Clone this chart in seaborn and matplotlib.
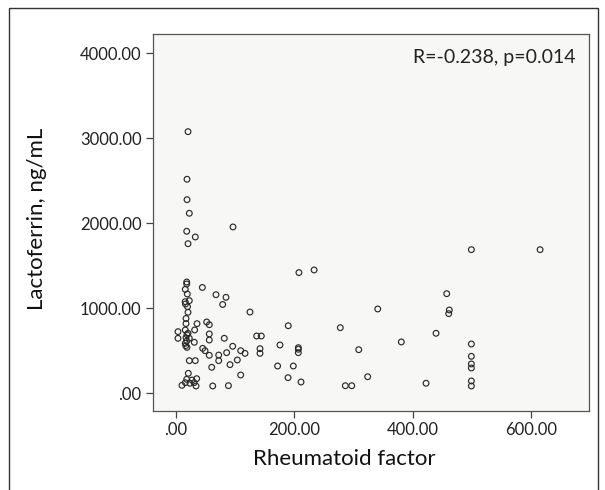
import matplotlib
matplotlib.use("Agg")
import matplotlib.pyplot as plt
from matplotlib.patches import Rectangle
import pandas as pd
import seaborn as sns

# Values
rheumatoid_factor = [
    18.6, 18.6, 16.2, 19.6, 16.0, 16.5, 23.0, 20.0, 20.8, 17.4, 17.4,
    16.2, 20.8, 17.4, 18.6, 16.2, 23.0, 19.0, 17.0, 19.0,
    3.9, 3.9,
    36.0, 32.0, 31.4, 23.0, 33.1,
    45.0, 52.3, 56.7, 56.7, 56.7, 45.6, 49.5, 56.7, 72.6, 72.6, 86.0, 60.8,
    21.3, 18.6, 27.5, 35.4, 10.6, 16.2, 24.1, 31.0, 34.3, 62.5, 89.0,
    68.0, 84.9, 79.3, 82.0, 96.2, 109.7, 117.0, 104.0, 91.7, 109.7,
    125.4, 136.7, 144.5, 142.3, 142.3,
    190.0, 176.0, 172.0, 198.5, 189.6, 211.5, 207.0, 207.0, 207.0, 208.0, 233.6,
    457.4, 461.8, 460.8, 341.0, 277.8, 439.4, 380.8, 308.9,
    499.0, 499.0, 499.0, 499.0, 499.0, 499.0,
    324.0, 286.3, 297.1, 422.5, 499.0, 615.0,
    20.8, 19.1, 19.1, 23.0, 18.6, 33.1, 20.8, 96.7,
]
lactoferrin = [
    1309, 1286, 1223, 1168, 1078, 1050, 1090, 1019, 953, 880, 820,
    745, 706, 654, 615, 588, 647, 690, 560, 540,
    725, 647,
    819, 745, 600, 384, 384,
    1245, 839, 807, 698, 627, 529, 501, 447, 450, 384, 478, 306,
    235, 165, 156, 172, 94, 125, 118, 125, 86, 86, 90,
    1160, 1129, 1045, 647, 553, 501, 470, 392, 337, 215,
    956, 674, 674, 525, 470,
    795, 568, 321, 321, 184, 133, 537, 518, 478, 1420, 1451,
    1172, 980, 937, 992, 772, 706, 604, 513,
    580, 435, 345, 298, 145, 86,
    195, 89, 89, 118, 1690, 1690,
    3078, 2518, 2278, 2118, 1906, 1839, 1760, 1957,
]

x_ticks = [0, 200, 400, 600]
x_tick_labels = [".00", "200.00", "400.00", "600.00"]
y_ticks = [0, 1000, 2000, 3000, 4000]
y_tick_labels = [".00", "1000.00", "2000.00", "3000.00", "4000.00"]
stat_text = "R=-0.238, p=0.014"

df = pd.DataFrame({"rf": rheumatoid_factor, "lf": lactoferrin})

sns.set_style("ticks")
plt.rcParams["font.family"] = ["Lato", "DejaVu Sans"]

fig = plt.figure(figsize=(6.05, 4.9), dpi=100)
ax = fig.add_axes([0.2524, 0.1618, 0.7212, 0.7688])
ax.set_facecolor("#f7f7f5")

sns.scatterplot(
    data=df, x="rf", y="lf", ax=ax,
    marker="o", s=17, facecolor="none", edgecolor="#2a2a2a", linewidth=0.85,
)

ax.set_xlim(-38.8, 697.6)
ax.set_ylim(-205, 4227)
ax.set_xticks(x_ticks)
ax.set_xticklabels(x_tick_labels)
ax.set_yticks(y_ticks)
ax.set_yticklabels(y_tick_labels)
ax.tick_params(direction="out", length=5, width=0.9, color="#444444",
               labelsize=12, labelcolor="#222222", pad=3)

for sp in ax.spines.values():
    sp.set_visible(True)
    sp.set_color("#555555")
    sp.set_linewidth(0.9)

ax.set_xlabel("Rheumatoid factor", fontsize=16, color="#111111")
ax.set_ylabel("Lactoferrin, ng/mL", fontsize=16, color="#111111")
ax.xaxis.set_label_coords(0.44, -0.102)
ax.yaxis.set_label_coords(-0.243, 0.51)

ax.text(0.968, 0.937, stat_text, transform=ax.transAxes, ha="right", va="center",
        fontsize=14, color="#222222")

# outer frame around the whole figure (bottom edge cut off in the reference)
fig.patches.append(Rectangle((9 / 605, -0.05), 589 / 605, 1.05 - 8.5 / 490,
                             transform=fig.transFigure, fill=False,
                             edgecolor="#333333", linewidth=1.0))

fig.savefig("out.png", dpi=100)
plt.close(fig)
